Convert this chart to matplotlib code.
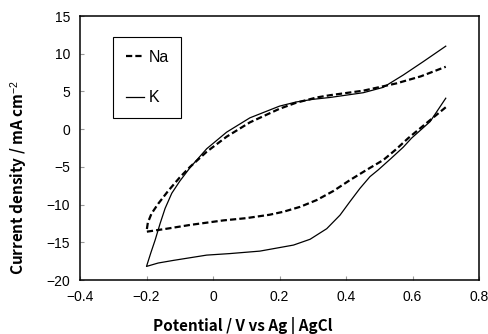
import matplotlib
matplotlib.use("Agg")
import matplotlib.pyplot as plt

# K, solid line: anodic sweep (up) and cathodic sweep (dn)
k_up_x = [-0.2, -0.187, -0.174, -0.159, -0.144, -0.124, -0.1, -0.069, -0.019, 0.041, 0.111, 0.2, 0.25, 0.3, 0.352, 0.452, 0.512, 0.572, 0.632, 0.7]
k_up_y = [-18.2, -16.4, -14.7, -12.5, -10.5, -8.5, -6.9, -5.1, -2.6, -0.4, 1.5, 3.05, 3.6, 3.95, 4.2, 4.83, 5.54, 7.17, 8.94, 11.0]
k_dn_x = [0.7, 0.653, 0.597, 0.572, 0.535, 0.497, 0.472, 0.442, 0.412, 0.382, 0.342, 0.292, 0.242, 0.141, 0.05, -0.019, -0.119, -0.165, -0.2]
k_dn_y = [4.1, 1.0, -1.2, -2.4, -3.9, -5.4, -6.3, -7.85, -9.6, -11.4, -13.2, -14.6, -15.37, -16.17, -16.5, -16.7, -17.4, -17.75, -18.2]

# Na, dashed line
na_up_x = [-0.2, -0.196, -0.185, -0.165, -0.135, -0.1, -0.069, -0.019, 0.041, 0.111, 0.2, 0.25, 0.312, 0.352, 0.452, 0.552, 0.625, 0.7]
na_up_y = [-13.6, -12.4, -11.2, -9.9, -8.2, -6.4, -5.0, -3.0, -1.0, 0.9, 2.7, 3.5, 4.2, 4.5, 5.1, 6.07, 7.0, 8.27]
na_dn_x = [0.7, 0.653, 0.587, 0.55, 0.512, 0.462, 0.412, 0.362, 0.312, 0.262, 0.212, 0.17, 0.1, 0.031, -0.069, -0.139, -0.2]
na_dn_y = [2.9, 1.2, -1.2, -2.7, -4.1, -5.4, -6.75, -8.2, -9.4, -10.3, -10.95, -11.35, -11.8, -12.1, -12.7, -13.2, -13.6]

x_ticks = [-0.4, -0.2, 0, 0.2, 0.4, 0.6, 0.8]
y_ticks = [-20, -15, -10, -5, 0, 5, 10, 15]

plt.rcParams['font.family'] = ['Liberation Sans', 'DejaVu Sans']
plt.rcParams['mathtext.fontset'] = 'custom'
plt.rcParams['mathtext.rm'] = 'Liberation Sans'
plt.rcParams['mathtext.default'] = 'rm'

fig = plt.figure(figsize=(4.88, 3.34), dpi=100)
ax = fig.add_axes([80/488, 1-280/334, 399/488, 264/334])

# cathodic branch reversed + anodic branch: joined at -0.2 V, open at 0.7 V
ax.plot(na_dn_x + na_up_x[1:], na_dn_y + na_up_y[1:], color='black', lw=1.6,
        linestyle=(0, (2.8, 1.4)), label='Na')
ax.plot(k_dn_x + k_up_x[1:], k_dn_y + k_up_y[1:], color='black', lw=0.9, label='K')

ax.set_xlim(-0.4, 0.8)
ax.set_ylim(-20, 15)
ax.set_xticks(x_ticks)
ax.set_yticks(y_ticks)
ax.set_xticklabels(["\u22120.4", "\u22120.2", "0", "0.2", "0.4", "0.6", "0.8"])
ax.set_yticklabels(["\u221220", "\u221215", "\u221210", "\u22125", "0", "5", "10", "15"])
ax.tick_params(direction='in', length=3, width=0.8, color='#999999', labelsize=10, pad=7)
for s in ax.spines.values():
    s.set_linewidth(1.1)
    s.set_color('black')

lab = dict(family=['Noto Sans CJK JP', 'DejaVu Sans'], weight='bold', fontsize=11)
ax.set_xlabel("Potential / V vs Ag | AgCl", va='center', **lab)
ax.xaxis.set_label_coords(0.408, -0.173)
ax.set_ylabel("Current density / mA cm$^{-2}$", va='center', **lab)
ax.yaxis.set_label_coords(-0.152, 0.388)

leg = ax.legend(loc='upper left', bbox_to_anchor=(0.083, 0.92), borderaxespad=0,
                fontsize=11.5, handlelength=1.15, handletextpad=0.25, labelspacing=1.6,
                borderpad=0.8, fancybox=False, framealpha=1)
leg.get_frame().set_edgecolor('black')
leg.get_frame().set_linewidth(0.8)

plt.savefig("out.png", dpi=100)
